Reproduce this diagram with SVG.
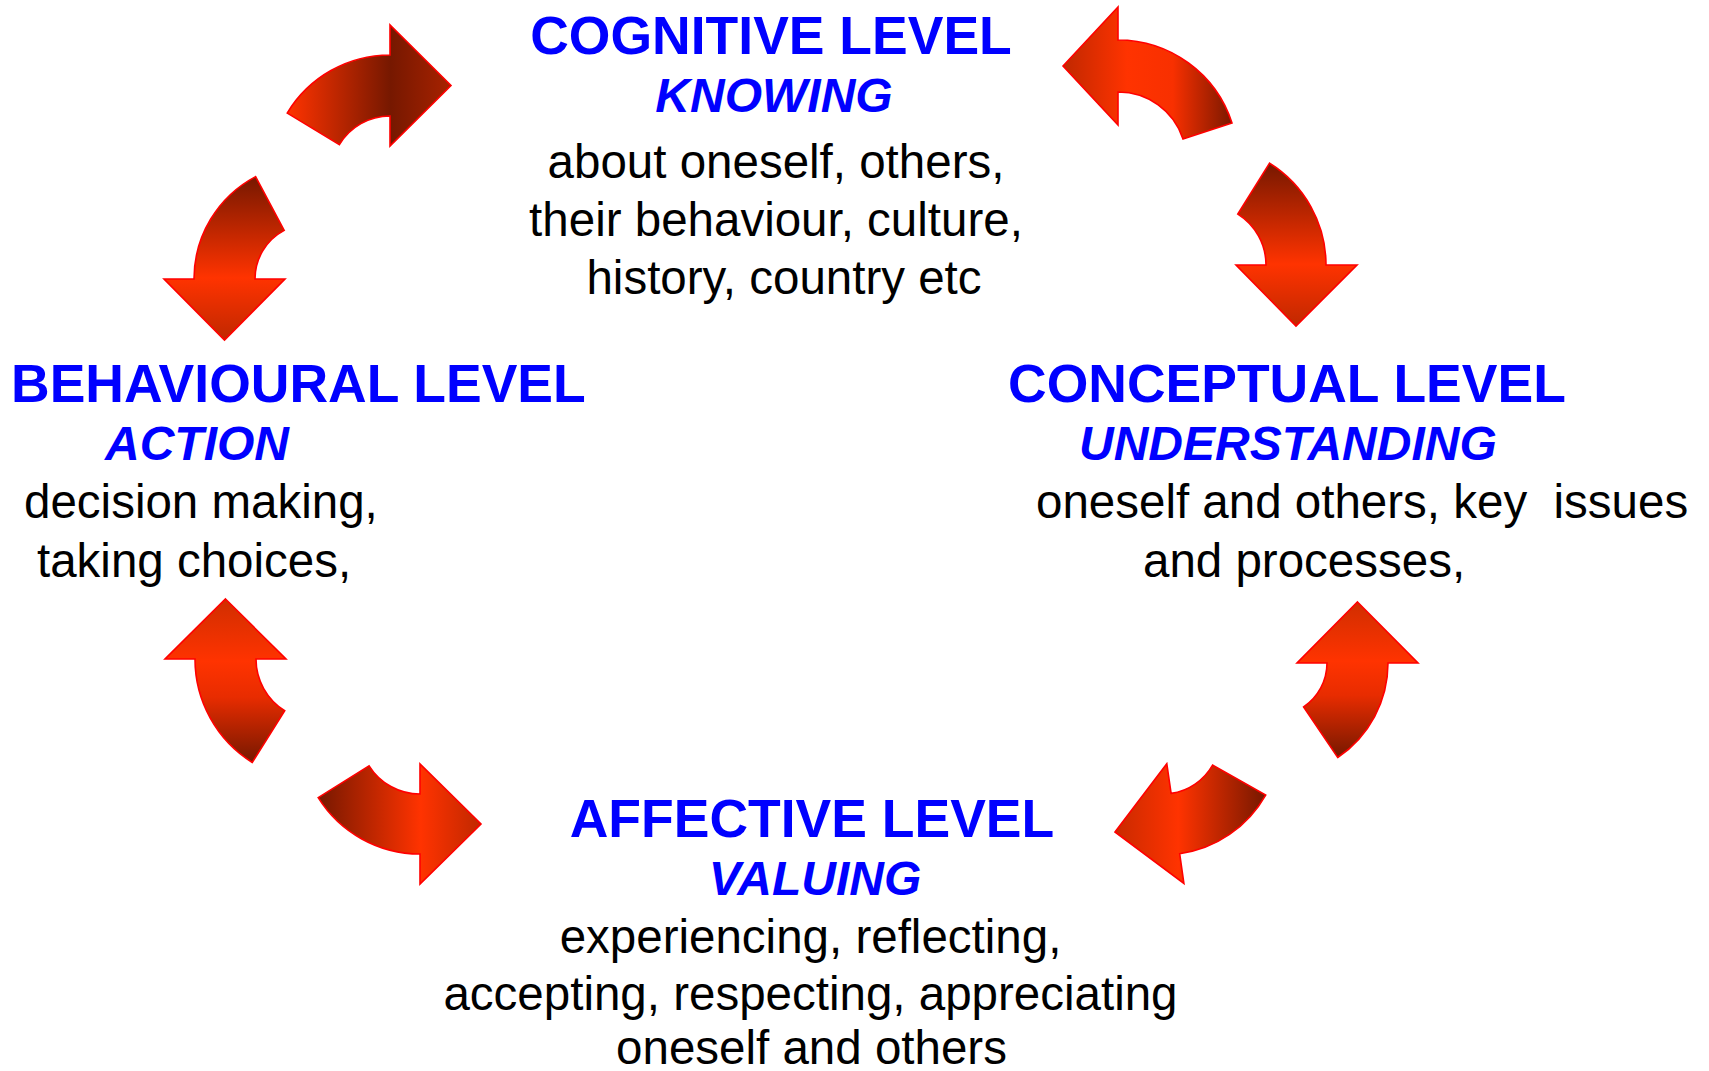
<svg xmlns="http://www.w3.org/2000/svg" width="1709" height="1071" viewBox="0 0 1709 1071">
<style>
.title{font-family:"Liberation Sans",Arial,sans-serif;font-weight:bold;font-size:53.5px;fill:#0000ff}
.sub{font-family:"Liberation Sans",Arial,sans-serif;font-weight:bold;font-style:italic;font-size:48px;fill:#0000ff}
.body{font-family:"Liberation Sans",Arial,sans-serif;font-size:47.5px;fill:#000000}
.arrow{stroke:#ff0000;stroke-width:1.6;stroke-linejoin:miter}
</style>
<defs>
<linearGradient id="g1" x1="0" y1="0" x2="1" y2="0"><stop offset="0" stop-color="#ff3300"/><stop offset="0.63" stop-color="#761800"/><stop offset="1" stop-color="#a82200"/></linearGradient>
<linearGradient id="g2" x1="0" y1="0" x2="1" y2="0"><stop offset="0" stop-color="#c02800"/><stop offset="0.38" stop-color="#ff3300"/><stop offset="0.65" stop-color="#f83000"/><stop offset="1" stop-color="#7a1800"/></linearGradient>
<linearGradient id="gdown" x1="0" y1="0" x2="0" y2="1"><stop offset="0" stop-color="#761800"/><stop offset="0.62" stop-color="#ff3300"/><stop offset="1" stop-color="#c02800"/></linearGradient>
<linearGradient id="gup" x1="0" y1="0" x2="0" y2="1"><stop offset="0" stop-color="#d02e00"/><stop offset="0.38" stop-color="#ff3300"/><stop offset="0.6" stop-color="#e82c00"/><stop offset="1" stop-color="#761800"/></linearGradient>
<linearGradient id="g7" x1="0" y1="0" x2="1" y2="0"><stop offset="0" stop-color="#761800"/><stop offset="0.63" stop-color="#ff3300"/><stop offset="1" stop-color="#c02800"/></linearGradient>
<linearGradient id="g8" x1="0" y1="0" x2="1" y2="0"><stop offset="0" stop-color="#c82a00"/><stop offset="0.42" stop-color="#ff3300"/><stop offset="1" stop-color="#761800"/></linearGradient>
</defs>
<rect width="1709" height="1071" fill="#ffffff"/>
<g id="connectors">
<path id="arrow-top-left" class="arrow" fill="url(#g1)" d="M287.2,113.1 A120,120 0 0 1 390,55 L390,25 L451,85.5 L390,146 L390,116 A59,59 0 0 0 339.4,144.6 Z"/>
<path id="arrow-top-right" class="arrow" fill="url(#g2)" d="M1063,66 L1118,7 L1118,40 A120,120 0 0 1 1232,123 L1183,139 A68,68 0 0 0 1118,92 L1118,125 Z"/>
<path id="arrow-left-upper" class="arrow" fill="url(#gdown)" d="M255.6,176.6 L284.2,230.4 A55,55 0 0 0 255,279 L285,279 L224.5,340 L164,279 L194,279 A116,116 0 0 1 255.6,176.6 Z"/>
<path id="arrow-right-upper" class="arrow" fill="url(#gdown)" d="M1269.6,163.2 A120,120 0 0 1 1326,265 L1357,265 L1296,326 L1236,265 L1266,265 A60,60 0 0 0 1237.8,214.1 Z"/>
<path id="arrow-left-lower" class="arrow" fill="url(#gup)" d="M225.5,599 L286,659 L256,659 A61,61 0 0 0 284.7,710.7 L252.3,762.5 A122,122 0 0 1 195,659 L165,659 Z"/>
<path id="arrow-right-lower" class="arrow" fill="url(#gup)" d="M1357.5,602 L1418,663 L1388,663 A114,114 0 0 1 1337.7,757.5 L1303.6,706.9 A53,53 0 0 0 1327,663 L1297,663 Z"/>
<path id="arrow-bottom-left" class="arrow" fill="url(#g7)" d="M318.2,797.6 L369.1,765.8 A60,60 0 0 0 420,794 L420,764 L481,824 L420,884 L420,854 A120,120 0 0 1 318.2,797.6 Z"/>
<path id="arrow-bottom-right" class="arrow" fill="url(#g8)" d="M1115,832 L1166.8,763.7 L1171.1,793.4 A57,57 0 0 0 1212.6,765.1 L1265.7,795.1 A118,118 0 0 1 1179.7,853.8 L1183.9,883.5 Z"/>
</g>
<g id="node-cognitive" text-anchor="middle">
<text class="title" x="771" y="54">COGNITIVE LEVEL</text>
<text class="sub" x="774" y="112">KNOWING</text>
<text class="body" x="776" y="178">about oneself, others,</text>
<text class="body" x="776" y="236">their behaviour, culture,</text>
<text class="body" x="784" y="294">history, country etc</text>
</g>
<g id="node-behavioural">
<text class="title" x="11" y="402">BEHAVIOURAL LEVEL</text>
<text class="sub" x="197" y="460" text-anchor="middle">ACTION</text>
<text class="body" x="24" y="518">decision making,</text>
<text class="body" x="37" y="577">taking choices,</text>
</g>
<g id="node-conceptual">
<text class="title" x="1008" y="402">CONCEPTUAL LEVEL</text>
<text class="sub" x="1079" y="460">UNDERSTANDING</text>
<text class="body" x="1036" y="518" xml:space="preserve" style="white-space:pre">oneself and others, key  issues</text>
<text class="body" x="1143" y="577">and processes,</text>
</g>
<g id="node-affective" text-anchor="middle">
<text class="title" x="812" y="837">AFFECTIVE LEVEL</text>
<text class="sub" x="815" y="895">VALUING</text>
<text class="body" x="810.5" y="953">experiencing, reflecting,</text>
<text class="body" x="810.5" y="1010">accepting, respecting, appreciating</text>
<text class="body" x="811.5" y="1064">oneself and others</text>
</g>
</svg>
